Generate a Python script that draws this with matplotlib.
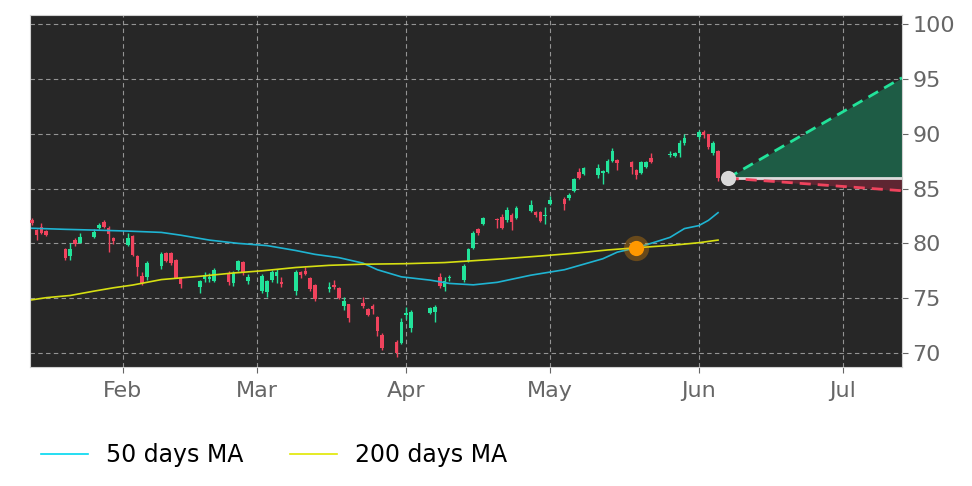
import matplotlib
matplotlib.use("Agg")
import matplotlib.pyplot as plt
import matplotlib.dates as mdates
from matplotlib.lines import Line2D
import pandas as pd

# daily candles (trading days)
dates = ["2026-01-13", "2026-01-14", "2026-01-15", "2026-01-16",
         "2026-01-20", "2026-01-21", "2026-01-22", "2026-01-23",
         "2026-01-26", "2026-01-27", "2026-01-28", "2026-01-29", "2026-01-30",
         "2026-02-02", "2026-02-03", "2026-02-04", "2026-02-05", "2026-02-06",
         "2026-02-09", "2026-02-10", "2026-02-11", "2026-02-12", "2026-02-13",
         "2026-02-17", "2026-02-18", "2026-02-19", "2026-02-20",
         "2026-02-23", "2026-02-24", "2026-02-25", "2026-02-26", "2026-02-27",
         "2026-03-02", "2026-03-03", "2026-03-04", "2026-03-05", "2026-03-06",
         "2026-03-09", "2026-03-10", "2026-03-11", "2026-03-12", "2026-03-13",
         "2026-03-16", "2026-03-17", "2026-03-18", "2026-03-19", "2026-03-20",
         "2026-03-23", "2026-03-24", "2026-03-25", "2026-03-26", "2026-03-27",
         "2026-03-30", "2026-03-31", "2026-04-01", "2026-04-02",
         "2026-04-06", "2026-04-07", "2026-04-08", "2026-04-09", "2026-04-10",
         "2026-04-13", "2026-04-14", "2026-04-15", "2026-04-16", "2026-04-17",
         "2026-04-20", "2026-04-21", "2026-04-22", "2026-04-23", "2026-04-24",
         "2026-04-27", "2026-04-28", "2026-04-29", "2026-04-30", "2026-05-01",
         "2026-05-04", "2026-05-05", "2026-05-06", "2026-05-07", "2026-05-08",
         "2026-05-11", "2026-05-12", "2026-05-13", "2026-05-14", "2026-05-15",
         "2026-05-18", "2026-05-19", "2026-05-20", "2026-05-21", "2026-05-22",
         "2026-05-26", "2026-05-27", "2026-05-28", "2026-05-29",
         "2026-06-01", "2026-06-02", "2026-06-03", "2026-06-04", "2026-06-05"]

opens = [82.13, 81.22, 81.52, 81.13,
         79.46, 78.85, 80.30, 80.06,
         80.56, 81.38, 81.98, 81.38, 80.52,
         79.85, 80.67, 78.85, 77.03, 76.91,
         77.97, 79.10, 79.10, 78.49, 76.87,
         76.06, 76.73, 76.73, 76.57,
         77.33, 76.36, 77.58, 78.34, 76.60,
         75.66, 75.54, 76.66, 77.06, 76.45,
         75.62, 77.42, 77.51, 76.82, 76.21,
         75.84, 76.21, 75.91, 74.32, 74.45,
         74.60, 73.99, 74.29, 73.26, 71.65,
         71.04, 70.89, 73.47, 72.30,
         73.68, 73.77, 76.97, 76.06, 76.85,
         76.66, 78.40, 79.60, 81.28, 81.74,
         82.18, 82.43, 82.13, 82.59, 82.35,
         82.95, 82.83, 82.83, 82.50, 83.60,
         84.02, 84.11, 84.80, 86.48, 86.33,
         86.24, 86.39, 86.54, 87.54, 87.60,
         87.45, 86.69, 86.39, 87.00, 87.81,
         88.05, 88.00, 88.20, 89.12,
         89.73, 90.18, 89.97, 88.20, 88.45]

highs = [82.30, 81.30, 81.85, 81.20,
         79.55, 80.00, 80.45, 80.97,
         81.30, 81.83, 82.10, 81.60, 80.60,
         80.97, 80.75, 78.95, 77.40, 78.35,
         79.25, 79.20, 79.20, 78.55, 76.95,
         76.70, 77.40, 77.30, 77.75,
         77.50, 77.45, 78.50, 78.40, 77.20,
         77.20, 76.70, 77.60, 77.70, 76.90,
         77.60, 77.50, 77.85, 76.90, 76.30,
         76.50, 76.70, 76.00, 75.10, 74.50,
         75.15, 74.10, 74.50, 73.40, 71.80,
         71.20, 73.20, 74.20, 73.90,
         74.20, 74.35, 77.30, 76.90, 77.10,
         78.10, 79.60, 81.10, 81.40, 82.45,
         82.30, 82.70, 83.30, 82.80, 83.45,
         83.96, 82.95, 82.95, 83.30, 84.30,
         84.20, 84.60, 85.95, 86.90, 86.95,
         87.20, 86.70, 87.65, 88.65, 87.70,
         87.55, 86.80, 87.55, 87.55, 88.20,
         88.45, 88.30, 89.40, 90.00,
         90.30, 90.30, 90.00, 89.30, 88.50]

lows = [81.70, 80.30, 80.85, 80.65,
        78.45, 78.50, 79.75, 80.00,
        80.45, 81.30, 81.40, 79.25, 79.90,
        79.80, 78.85, 77.03, 76.20, 76.70,
        77.70, 78.30, 78.05, 76.80, 75.95,
        75.45, 76.50, 76.50, 76.45,
        76.25, 76.10, 77.50, 77.15, 76.30,
        75.50, 75.10, 76.50, 76.40, 76.00,
        75.30, 76.80, 77.10, 75.70, 74.75,
        75.60, 75.80, 74.90, 73.90, 72.80,
        74.10, 73.35, 73.60, 71.60, 70.30,
        69.68, 70.80, 73.10, 71.95,
        73.55, 72.80, 75.90, 75.70, 76.60,
        76.50, 78.30, 79.50, 80.75, 81.65,
        81.40, 81.30, 81.95, 81.20, 82.20,
        82.85, 82.40, 81.95, 81.80, 83.50,
        83.05, 84.00, 84.70, 85.90, 86.20,
        86.00, 85.40, 86.45, 87.45, 86.70,
        86.30, 85.85, 86.30, 86.90, 87.30,
        87.90, 87.90, 87.85, 89.00,
        89.50, 89.60, 88.60, 88.10, 85.70]

closes = [81.83, 80.77, 80.92, 80.77,
          78.70, 79.46, 79.94, 80.61,
          81.07, 81.68, 81.47, 80.83, 80.22,
          80.46, 78.94, 77.88, 76.42, 78.18,
          79.00, 78.40, 78.18, 76.87, 76.27,
          76.57, 77.12, 76.97, 77.58,
          76.51, 77.27, 78.40, 77.42, 76.91,
          77.06, 76.57, 77.36, 77.42, 76.33,
          77.42, 77.12, 77.21, 75.82, 74.90,
          76.06, 76.06, 75.00, 74.75, 73.17,
          74.29, 73.47, 73.99, 71.99, 70.44,
          69.98, 72.86, 73.68, 73.77,
          74.08, 74.23, 76.12, 76.60, 76.90,
          77.94, 79.46, 80.97, 80.92, 82.35,
          82.10, 81.38, 83.04, 81.98, 83.26,
          83.50, 82.59, 82.07, 82.60, 83.96,
          83.60, 84.41, 85.84, 85.99, 86.85,
          86.85, 86.60, 87.54, 88.45, 87.30,
          87.00, 86.24, 87.45, 87.45, 87.39,
          88.12, 88.20, 89.12, 89.58,
          90.18, 89.88, 88.76, 89.18, 85.95]

# moving averages
ma50_dates = ["2026-01-13", "2026-01-20", "2026-01-27", "2026-02-02", "2026-02-09",
              "2026-02-13", "2026-02-19", "2026-02-25", "2026-03-03", "2026-03-09",
              "2026-03-13", "2026-03-18", "2026-03-23", "2026-03-26", "2026-03-31",
              "2026-04-06", "2026-04-10", "2026-04-15", "2026-04-20", "2026-04-27",
              "2026-05-04", "2026-05-08", "2026-05-12", "2026-05-15", "2026-05-19",
              "2026-05-22", "2026-05-26", "2026-05-29", "2026-06-01", "2026-06-03",
              "2026-06-05"]
ma50 = [81.38, 81.28, 81.20, 81.12, 81.00,
        80.75, 80.30, 80.00, 79.80, 79.35,
        79.00, 78.70, 78.20, 77.60, 76.95,
        76.65, 76.35, 76.22, 76.45, 77.10,
        77.60, 78.10, 78.60, 79.20, 79.60,
        80.00, 80.55, 81.35, 81.62, 82.10,
        82.80]

ma200_dates = ["2026-01-13", "2026-01-16", "2026-01-21", "2026-01-26", "2026-01-30",
               "2026-02-03", "2026-02-09", "2026-02-17", "2026-02-24", "2026-03-02",
               "2026-03-09", "2026-03-16", "2026-03-23", "2026-04-01", "2026-04-09",
               "2026-04-15", "2026-04-22", "2026-04-29", "2026-05-06", "2026-05-13",
               "2026-05-19", "2026-05-27", "2026-06-01", "2026-06-05"]
ma200 = [74.85, 75.05, 75.25, 75.65, 75.95,
         76.20, 76.70, 77.00, 77.30, 77.50,
         77.80, 78.00, 78.10, 78.15, 78.25,
         78.42, 78.62, 78.85, 79.10, 79.40,
         79.60, 79.85, 80.06, 80.30]

cross_date = "2026-05-19"
cross_value = 79.6

last_date = "2026-06-07"
last_close = 85.95
proj_end = "2026-07-13 08:00"
proj_high = 95.1
proj_low = 84.8

green = "#22e39a"
red = "#f0435d"
bg = "#272727"

d = pd.to_datetime(dates)
ma50_d = pd.to_datetime(ma50_dates)
ma200_d = pd.to_datetime(ma200_dates)

fig = plt.figure(figsize=(9.72, 4.86), dpi=100)
ax = fig.add_axes([30 / 972, 1 - 367 / 486, 872 / 972, 352 / 486])
ax.set_facecolor(bg)

# candles
for i in range(len(d)):
    o, h, l, c = opens[i], highs[i], lows[i], closes[i]
    col = green if c >= o else red
    ax.vlines(d[i], l, h, color=col, linewidth=1, zorder=3)
    ax.bar(d[i], max(abs(c - o), 0.06), bottom=min(o, c), width=0.75,
           color=col, linewidth=0, zorder=4)

ax.plot(ma50_d, ma50, color="#1fb4d2", linewidth=1.2, zorder=5)
ax.plot(ma200_d, ma200, color="#d6df12", linewidth=1.2, zorder=5)

# golden cross marker
cx = pd.to_datetime(cross_date)
ax.scatter([cx], [cross_value], s=330, color="#ff9a00", alpha=0.3, linewidths=0, zorder=6)
ax.scatter([cx], [cross_value], s=120, color="#ff9800", linewidths=0, zorder=7)

# projection cone
x0 = pd.to_datetime(last_date)
x1 = pd.to_datetime(proj_end)
ax.fill_between([x0, x1], [last_close, last_close], [last_close, proj_high],
                color="#1e5c45", linewidth=0, zorder=2)
ax.fill_between([x0, x1], [last_close, last_close], [last_close, proj_low],
                color="#5e2632", linewidth=0, zorder=2)
ax.plot([x0, x1], [last_close, last_close], color="#dddddd", linewidth=2, zorder=5)
ax.plot([x0, x1], [last_close, proj_high], color=green, linewidth=2,
        linestyle=(0, (4, 2.5)), zorder=6)
ax.plot([x0, x1], [last_close, proj_low], color=red, linewidth=2,
        linestyle=(0, (4, 2.5)), zorder=6)
ax.scatter([x0], [last_close], s=120, color="#d9d9d9", linewidths=0, zorder=8)

ax.set_xlim(pd.to_datetime("2026-01-12 15:00"), x1)
ax.set_ylim(68.73, 100.82)

ax.xaxis.set_major_locator(mdates.MonthLocator())
ax.xaxis.set_major_formatter(mdates.DateFormatter("%b"))
ax.yaxis.tick_right()
ax.set_yticks([70, 75, 80, 85, 90, 95, 100])
ax.grid(True, color="#b0b0b0", linestyle=(0, (4, 3)), linewidth=0.8, alpha=0.8)
ax.set_axisbelow(True)
ax.tick_params(axis="both", colors="#666666", labelsize=16, length=4, width=0.8)
ax.tick_params(axis="x", pad=6)
for s in ax.spines.values():
    s.set_color("#d0d0d0")
    s.set_linewidth(0.8)

handles = [Line2D([], [], color="#00d8f0", linewidth=1.2),
           Line2D([], [], color="#e0e800", linewidth=1.2)]
fig.legend(handles, ["50 days MA", "200 days MA"], loc="center left",
           bbox_to_anchor=(0.02, 0.064), ncol=2, frameon=False, fontsize=17,
           handlelength=2.0, handletextpad=0.75, columnspacing=2.0)

fig.savefig("out.png", dpi=100, facecolor="white")
